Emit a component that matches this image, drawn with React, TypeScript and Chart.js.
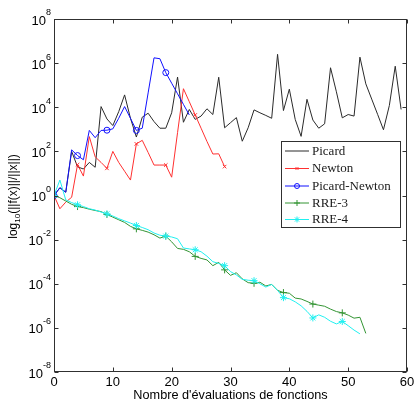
import React, { useEffect, useRef } from "react";
import { Chart, registerables } from "chart.js";

Chart.register(...registerables);

// ---- Data (log10 of the plotted values) ----
const seriesNames = ["Picard", "Newton", "Picard-Newton", "RRE-3", "RRE-4"];

const picardExp = [0, 0.35, 0.15, 2.0, 1.3, 1.2, 1.5, 1.28, 4.03, 3.47, 3.17, 3.8, 4.56, 3.5, 2.65, 3.55, 3.73, 3.35, 3.05, 3.05,
  3.75, 5.37, 3.32, 3.9, 3.45, 3.6, 3.93, 3.67, 5.36, 3.07, 3.3, 3.53, 2.46, 3.07, 3.88, 3.75, 3.63, 3.5, 6.4, 3.85,
  4.82, 3.45, 2.68, 4.36, 3.42, 3.05, 3.25, 5.79, 4.7, 3.52, 3.67, 3.6, 6.27, 5.06, 4.37, 3.68, 2.98, 4.08, 5.86, 3.9];

const newtonExp = [0, -0.6, -0.3, -0.08, 1.4, 0.88, 2.67, 1.75, 1.5, 1.23, 2.0, 1.5, 1.1, 0.7, 2.34, 2.5, 1.95, 1.38, 1.38, 1.38,
  0.83, 2.85, 4.84, 4.25, 3.65, 3.05, 2.45, 1.88, 1.89, 1.31];

const picardNewtonExp = [0, 0.35, 0.15, 2.07, 1.81, 1.62, 2.95, 2.62, 2.95, 2.96, 3.02, 3.5, 4.03, 3.5, 2.95, 3.05, 4.65, 6.24, 6.2, 5.57,
  5.09, 4.61, 4.13, 3.65];

const rre3Exp = [0, -0.1, -0.25, -0.4, -0.5, -0.55, -0.62, -0.68, -0.73, -0.86, -0.98, -1.1, -1.22, -1.4, -1.51, -1.58, -1.66, -1.78, -1.93, -1.84,
  -2.1, -2.4, -2.44, -2.55, -2.76, -2.85, -2.92, -3.18, -3.03, -3.37, -3.62, -3.5, -3.78, -3.95, -3.98, -3.93, -4.1, -4.03, -4.3, -4.4,
  -4.43, -4.65, -4.69, -4.8, -4.92, -4.97, -5.02, -5.15, -5.26, -5.32, -5.42, -5.56, -5.52, -6.25];

const rre4Exp = [0, 0.7, -0.2, -0.32, -0.42, -0.5, -0.6, -0.66, -0.75, -0.83, -0.93, -1.05, -1.15, -1.25, -1.36, -1.45, -1.55, -1.7, -1.8, -1.84,
  -1.88, -1.96, -2.38, -2.42, -2.46, -2.55, -2.75, -3.0, -3.08, -3.18, -3.45, -3.6, -3.8, -3.84, -3.86, -4.0, -4.15, -4.03, -4.3, -4.63,
  -4.68, -4.82, -5.0, -5.25, -5.55, -5.41, -5.52, -5.7, -5.82, -5.71, -5.9, -6.1, -6.27];

const xTicks = [0, 10, 20, 30, 40, 50, 60];
const yTickExps = [-8, -6, -4, -2, 0, 2, 4, 6, 8];
const xTitle = "Nombre d'évaluations de fonctions";

const colors = ["#2a2a2a", "#ff3030", "#1010ff", "#339433", "#20f0f0"];
const pointStyles: any[] = [false, "crossRot", "circle", "cross", "star"];
const pointSizes = [0, 2.5, 3, 3.5, 3.5];

const SANS = "Arial, 'Liberation Sans', Helvetica, sans-serif";
const SERIF = "'Liberation Serif', 'Times New Roman', serif";

function toPoints(exps: number[]) {
  return exps.map((e, i) => ({ x: i, y: Math.pow(10, e) }));
}

function markerRadius(r: number) {
  return (c: any) => {
    const i = c.dataIndex;
    return i === 0 || i % 5 === 4 ? r : 0;
  };
}

function drawMarker(ctx: CanvasRenderingContext2D, style: string, x: number, y: number, r: number) {
  ctx.beginPath();
  if (style === "circle") {
    ctx.arc(x, y, r, 0, Math.PI * 2);
  } else if (style === "cross" || style === "star") {
    ctx.moveTo(x - r, y); ctx.lineTo(x + r, y);
    ctx.moveTo(x, y - r); ctx.lineTo(x, y + r);
  }
  if (style === "crossRot" || style === "star") {
    const d = r * 0.7071;
    ctx.moveTo(x - d, y - d); ctx.lineTo(x + d, y + d);
    ctx.moveTo(x - d, y + d); ctx.lineTo(x + d, y - d);
  }
  ctx.stroke();
}

const framePlugin = {
  id: "matlabFrame",
  afterDraw(chart: any) {
    const ctx: CanvasRenderingContext2D = chart.ctx;
    const { left, right, top, bottom } = chart.chartArea;
    const xs = chart.scales.x;
    const ys = chart.scales.y;
    const L = Math.round(left) + 0.5, R = Math.round(right) - 0.5;
    const T = Math.round(top) + 0.5, B = Math.round(bottom) - 0.5;
    ctx.save();
    ctx.strokeStyle = "#303030";
    ctx.lineWidth = 1;
    ctx.strokeRect(L, T, R - L, B - T);

    // ticks inward
    const tl = 4;
    ctx.beginPath();
    xTicks.forEach((v) => {
      const px = Math.round(xs.getPixelForValue(v)) + 0.5;
      ctx.moveTo(px, B); ctx.lineTo(px, B - tl);
      ctx.moveTo(px, T); ctx.lineTo(px, T + tl);
    });
    yTickExps.forEach((e) => {
      const py = Math.round(ys.getPixelForValue(Math.pow(10, e))) + 0.5;
      ctx.moveTo(L, py); ctx.lineTo(L + tl, py);
      ctx.moveTo(R, py); ctx.lineTo(R - tl, py);
    });
    ctx.stroke();

    // x tick labels
    ctx.fillStyle = "#000";
    ctx.font = `13px ${SANS}`;
    ctx.textAlign = "center";
    ctx.textBaseline = "middle";
    xTicks.forEach((v) => {
      ctx.fillText(String(v), xs.getPixelForValue(v), bottom + 10);
    });

    // y tick labels: 10^e
    yTickExps.forEach((e) => {
      const py = ys.getPixelForValue(Math.pow(10, e));
      const rightEdge = left - 3;
      ctx.font = `9px ${SANS}`;
      const expStr = String(e);
      const ew = ctx.measureText(expStr).width;
      ctx.textAlign = "left";
      ctx.textBaseline = "middle";
      ctx.fillText(expStr, rightEdge - ew, py - 6);
      ctx.font = `13px ${SANS}`;
      ctx.textAlign = "right";
      ctx.fillText("10", rightEdge - ew, py + 2);
    });

    // x title
    ctx.font = `12.7px ${SANS}`;
    ctx.textAlign = "center";
    ctx.textBaseline = "middle";
    ctx.fillText(xTitle, (left + right) / 2, bottom + 23);

    // y title with subscript
    ctx.save();
    ctx.translate(13, (top + bottom) / 2 + 1);
    ctx.rotate(-Math.PI / 2);
    const p1 = "log", p2 = "10", p3 = "(||f(x)||/||x||)";
    ctx.font = `12px ${SANS}`;
    const w1 = ctx.measureText(p1).width, w3 = ctx.measureText(p3).width;
    ctx.font = `8px ${SANS}`;
    const w2 = ctx.measureText(p2).width;
    const total = w1 + w2 + w3;
    let cx = -total / 2;
    ctx.textAlign = "left";
    ctx.textBaseline = "alphabetic";
    ctx.font = `12px ${SANS}`;
    ctx.fillText(p1, cx, 4); cx += w1;
    ctx.font = `8px ${SANS}`;
    ctx.fillText(p2, cx, 7); cx += w2;
    ctx.font = `12px ${SANS}`;
    ctx.fillText(p3, cx, 4);
    ctx.restore();

    // legend
    const lx = 281.5, ly = 141.5, lw = 119, lh = 86;
    ctx.fillStyle = "#fff";
    ctx.fillRect(lx, ly, lw, lh);
    ctx.strokeStyle = "#303030";
    ctx.strokeRect(lx, ly, lw, lh);
    const rowYs = [151, 168.5, 186, 203, 219.5];
    seriesNames.forEach((name, i) => {
      const y = rowYs[i];
      ctx.strokeStyle = colors[i];
      ctx.lineWidth = 1;
      ctx.beginPath();
      ctx.moveTo(285, y); ctx.lineTo(309, y);
      ctx.stroke();
      if (pointStyles[i]) drawMarker(ctx, pointStyles[i], 297, y, pointSizes[i] - 0.5);
      ctx.fillStyle = "#1a1a1a";
      ctx.font = `13px ${SERIF}`;
      ctx.textAlign = "left";
      ctx.textBaseline = "middle";
      ctx.fillText(name, 312, y + 0.5);
    });
    ctx.restore();
  },
};

export default function App() {
  const canvasRef = useRef<HTMLCanvasElement | null>(null);

  useEffect(() => {
    const canvas = canvasRef.current;
    if (!canvas) return;
    const allExps = [picardExp, newtonExp, picardNewtonExp, rre3Exp, rre4Exp];
    const datasets = allExps.map((exps, i) => ({
      label: seriesNames[i],
      data: toPoints(exps),
      borderColor: colors[i],
      backgroundColor: colors[i],
      borderWidth: 1,
      pointStyle: pointStyles[i] || "circle",
      pointRadius: i === 0 ? 0 : markerRadius(pointSizes[i]),
      pointBorderColor: colors[i],
      pointBackgroundColor: "rgba(0,0,0,0)",
      pointBorderWidth: 1,
      pointHoverRadius: 0,
      tension: 0,
      fill: false,
      order: 4 - i,
    }));
    const chart = new Chart(canvas, {
      type: "line",
      data: { datasets },
      options: {
        responsive: false,
        animation: false,
        maintainAspectRatio: false,
        layout: { padding: { left: 54, top: 19, right: 10, bottom: 29 } },
        plugins: { legend: { display: false }, tooltip: { enabled: false } },
        events: [],
        scales: {
          x: { type: "linear", min: 0, max: 60, display: false },
          y: { type: "logarithmic", min: 1e-8, max: 1e8, display: false },
        },
      },
      plugins: [framePlugin],
    });
    return () => chart.destroy();
  }, []);

  return (
    <div style={{ position: "fixed", left: 0, top: 0, width: 417, height: 401, background: "#fff" }}>
      <canvas ref={canvasRef} width={417} height={401} style={{ width: 417, height: 401, display: "block" }} />
    </div>
  );
}
